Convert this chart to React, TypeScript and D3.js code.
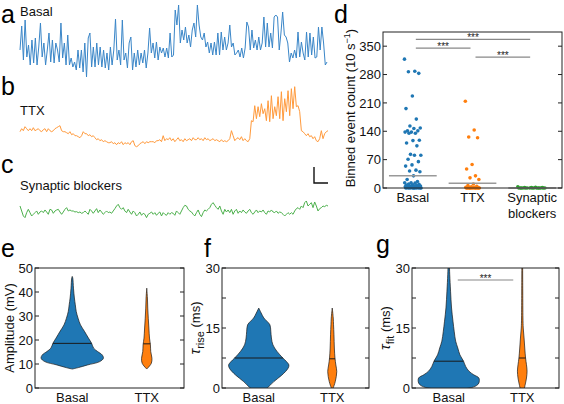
import React, { useEffect, useRef } from 'react';
import * as d3 from 'd3';

const FONT = '"Liberation Sans", Arial, Helvetica, sans-serif';

// ---- traces (a, b, c) ----
const basalTrace = [
  30,54,20,60,23,35,15,40,17,42,15,33,57,23,37,15,30,47,18,40,17,37,30,18,57,22,37,15,45,15,22,13,18,10,30,12,30,8,37,3,
  42,47,13,33,13,37,15,33,13,30,12,27,10,33,15,30,61,20,30,15,60,20,27,12,37,43,10,27,13,30,15,27,17,30,12,27,52,27,37,22,
  38,20,33,27,32,23,32,22,47,23,25,
  70,55,75,37,50,40,53,37,45,33,50,57,43,75,55,43,40,47,33,38,27,37,25,38,25,47,25,48,30,43,30,37,55,33,37,25,27,30,23,32,
  22,32,58,53,30,50,32,40,30,43,30,37,63,33,57,33,47,32,63,65,63,30,47,68,45,43,37,18,27,22,30,22,48,23,38,27,20,48,23,47,
  25,43,22,23,53,30,53,37,15,18
];
const ttxTrace = [
  17,20,18,22,20,18,20,18,21,18,19,20,18,17,19,20,17,20,18,17,18,20,21,22,23,18,17,17,16,15,17,14,15,13,13,12,11,13,17,15,
  15,13,14,12,13,11,9,10,8,9,7,8,7,6,6,7,5,6,4,6,5,7,4,6,5,6,4,7,8,3,2,3,5,6,7,5,7,6,7,7,7,6,8,8,9,7,13,8,10,9,11,8,10,7,
  9,11,8,9,7,10,8,9,10,8,11,9,9,11,9,10,8,11,9,10,8,9,10,8,9,8,7,9,7,8,7,8,10,18,13,8,10,11,9,12,8,10,8,7,10,
  28,27,43,30,42,32,45,35,40,28,48,27,53,30,42,33,52,30,57,28,50,37,58,33,60,40,62,42,43,37,
  18,17,15,13,15,12,13,10,12,8,7,10,18,10,15,17,18
];
const synTrace = [
  40,25,10,5,20,30,20,10,15,20,25,15,22,25,20,28,22,15,30,28,18,25,28,30,22,15,22,30,35,25,28,25,25,22,23,20,22,18,20,25,
  20,15,30,25,18,25,32,20,28,22,15,20,25,20,22,18,25,32,40,45,35,30,35,25,20,30,22,15,25,20,10,15,22,12,18,15,5,15,18,22,
  15,20,12,18,22,10,20,15,12,20,15,20,18,12,25,20,15,25,35,42,40,30,25,22,15,10,20,28,15,8,20,28,25,30,35,45,50,42,35,30,
  40,25,15,30,22,28,20,30,15,25,30,18,25,20,28,22,18,25,30,20,15,22,28,20,25,22,28,20,15,25,22,28,22,20,25,18,22,20,15,10,
  15,20,15,20,15,25,32,35,30,40,35,50,55,40,45,50,35,52,40,25,32,35,40,38,42,40
];
const traceNames = ['Basal', 'TTX', 'Synaptic blockers'];

// ---- panel d ----
const dCategories = ['Basal', 'TTX', 'Synaptic blockers'];
const basalCounts = [318,288,287,283,227,196,170,153,148,147,141,141,138,138,135,135,118,117,111,104,83,81,81,71,65,57,54,44,42,40,
  30,21,16,13,13,12,10,9,8,7,6,5,5,4,4,3,3,3,2,2,2,1,1,1,1,0,0,0,0,0,0,0,0,0,0];
const ttxCounts = [214,143,126,124,58,47,30,25,21,10,6,4,3,2,2,1,1,1,0,0,0,0,0,0,0,0,0,0,0,0];
const synCounts = [3,2,1,1,1,0,0,0,0,0,0,0,0,0,0,0,0,0,0,0];
const dMedians = [30, 12, 0];
const dTicks = [0, 70, 140, 210, 280, 350];
const dSig = [
  { from: 1, to: 3, value: 367 },
  { from: 1, to: 2, value: 345 },
  { from: 2, to: 3, value: 323 },
];

// ---- violins (e, f, g): [value, relative density] ----
const vCategories = ['Basal', 'TTX'];
const ampBasal = [[7.9,0],[8.5,0.2],[9.6,0.5],[11.0,0.9],[12.4,1.02],[13.8,0.98],[15.2,0.83],[16.6,0.7],[18.7,0.63],[20.8,0.53],
  [23.6,0.4],[26.3,0.27],[29.1,0.19],[31.9,0.13],[34.7,0.1],[37.5,0.07],[41.6,0.04],[45.8,0.017],[46.5,0]];
const ampTTX = [[7.9,0],[8.3,0.03],[10.3,0.15],[12.4,0.17],[15.2,0.13],[18,0.12],[20.8,0.09],[25,0.07],[29.1,0.05],[33.3,0.033],
  [37.5,0.022],[41.6,0]];
const ampMedians = [18.6, 18.4];
const ampTicks = [0, 10, 20, 30, 40, 50];

const riseBasal = [[-1.2,0],[0,0.28],[1.6,0.5],[3.25,0.77],[4.9,0.97],[5.75,1.0],[6.6,0.92],[7.5,0.8],[9.2,0.6],[10.8,0.47],
  [12.5,0.42],[14.2,0.4],[15.8,0.37],[16.7,0.27],[17.5,0.17],[18.75,0.08],[20,0]];
const riseTTX = [[-0.5,0],[0,0.03],[1.6,0.1],[4.1,0.15],[5.75,0.12],[7.5,0.09],[10,0.07],[13.3,0.057],[15.8,0.043],[17.5,0.033],[20,0]];
const riseMedians = [7.5, 7.3];

const fitBasal = [[-0.4,0],[0,0.7],[0.6,0.92],[1.25,1.0],[2.5,1.0],[3.3,0.83],[4.2,0.67],[5.4,0.56],[6.7,0.49],[8.3,0.37],[10,0.3],
  [11.7,0.23],[14.2,0.18],[16.7,0.14],[20,0.093],[24.2,0.06],[28.3,0.033],[30,0.025],[32,0.02]];
const fitTTX = [[-0.4,0],[0,0.07],[0.6,0.09],[2.5,0.14],[4.2,0.16],[5.8,0.14],[7.5,0.11],[10,0.083],[12.5,0.06],[15,0.033],
  [17.5,0.023],[24,0.017],[30,0.013],[32,0.013]];
const fitMedians = [6.7, 7.5];
const tauTicks = [0, 7.5, 15, 22.5, 30];
const tauLabels = [0, 15, 30];
const fitSig = [{ from: 1, to: 2, value: 27 }];

const BLUE = '#1f77b4';
const ORANGE = '#ff7f0e';
const GREEN = '#2ca02c';
const AXIS = '#222';

type Sel = d3.Selection<any, unknown, null, undefined>;

function drawTrace(g: Sel, data: number[], color: string, x0: number, x1: number, dom: [number, number], rng: [number, number]) {
  const x = d3.scaleLinear().domain([0, data.length - 1]).range([x0, x1]);
  const y = d3.scaleLinear().domain(dom).range(rng);
  const line = d3.line<number>().x((_, i) => x(i)).y((d) => y(d));
  g.append('path').attr('d', line(data)).attr('fill', 'none').attr('stroke', color).attr('stroke-width', 1)
    .attr('stroke-linejoin', 'round');
}

function yTicks(g: Sel, y: d3.ScaleLinear<number, number>, left: number, right: number, ticks: number[], labels: number[]) {
  ticks.forEach((t) => {
    g.append('line').attr('x1', left).attr('x2', left + 4).attr('y1', y(t)).attr('y2', y(t)).attr('stroke', AXIS).attr('stroke-width', 1);
    g.append('line').attr('x1', right).attr('x2', right - 4).attr('y1', y(t)).attr('y2', y(t)).attr('stroke', AXIS).attr('stroke-width', 1);
  });
  labels.forEach((t) => {
    g.append('text').attr('x', left - 2).attr('y', y(t)).attr('dy', '0.36em').attr('text-anchor', 'end')
      .attr('font-size', 13).attr('font-family', FONT).attr('fill', '#111').text(String(t));
  });
}

function sigBar(g: Sel, x1: number, x2: number, yv: number) {
  g.append('line').attr('x1', x1).attr('x2', x2).attr('y1', yv).attr('y2', yv).attr('stroke', '#888').attr('stroke-width', 1.2);
  g.append('text').attr('x', (x1 + x2) / 2).attr('y', yv + 2).attr('text-anchor', 'middle').attr('font-size', 10)
    .attr('font-family', FONT).attr('fill', '#222').text('***');
}

function violinPanel(svg: Sel, opts: {
  id: string; left: number; right: number; top: number; bottom: number; yMax: number;
  ticks: number[]; labels: number[]; data: number[][][]; medians: number[];
  sig?: { from: number; to: number; value: number }[];
}) {
  const { left, right, top, bottom } = opts;
  const x = d3.scaleLinear().domain([0.5, 2.5]).range([left, right]);
  const y = d3.scaleLinear().domain([0, opts.yMax]).range([bottom, top]);
  const unit = x(1) - x(0);
  const g = svg.append('g');
  g.append('clipPath').attr('id', opts.id).append('rect').attr('x', left).attr('y', top).attr('width', right - left).attr('height', bottom - top);
  const cg = g.append('g').attr('clip-path', `url(#${opts.id})`);
  const colors = [BLUE, ORANGE];
  opts.data.forEach((ds, k) => {
    const cx = x(k + 1);
    const area = d3.area<number[]>()
      .y((d) => y(d[0]))
      .x0((d) => cx - d[1] * 0.41 * unit)
      .x1((d) => cx + d[1] * 0.41 * unit)
      .curve(d3.curveCatmullRom);
    cg.append('path').attr('d', area(ds)).attr('fill', colors[k]).attr('stroke', '#1a1a1a').attr('stroke-width', 0.7);
    const m = opts.medians[k];
    let w = 0;
    for (let i = 0; i < ds.length - 1; i++) {
      if (ds[i][0] <= m && ds[i + 1][0] >= m) {
        const f = (m - ds[i][0]) / (ds[i + 1][0] - ds[i][0]);
        w = ds[i][1] + f * (ds[i + 1][1] - ds[i][1]);
      }
    }
    cg.append('line').attr('x1', cx - w * 0.41 * unit).attr('x2', cx + w * 0.41 * unit).attr('y1', y(m)).attr('y2', y(m))
      .attr('stroke', '#1a1a1a').attr('stroke-width', 1);
  });
  g.append('rect').attr('x', left).attr('y', top).attr('width', right - left).attr('height', bottom - top)
    .attr('fill', 'none').attr('stroke', AXIS).attr('stroke-width', 1);
  yTicks(g, y, left, right, opts.ticks, opts.labels);
  vCategories.forEach((c, k) => {
    g.append('text').attr('x', x(k + 1)).attr('y', 402).attr('text-anchor', 'middle').attr('font-size', 13)
      .attr('font-family', FONT).attr('fill', '#111').text(c);
  });
  (opts.sig || []).forEach((s) => sigBar(g, x(s.from) + 9, x(s.to) - 9, y(s.value)));
  return g;
}

function draw(svg: Sel) {
  svg.append('rect').attr('width', 564).attr('height', 404).attr('fill', '#fff');

  // panel labels
  const pl: [string, number, number][] = [['a', 1, 23], ['b', 1, 95], ['c', 1, 173], ['d', 334, 23], ['e', 1, 257], ['f', 204, 257], ['g', 376, 253]];
  pl.forEach(([t, x, y]) => {
    svg.append('text').attr('x', x).attr('y', y).attr('font-size', 25).attr('font-family', FONT).attr('fill', '#000').text(t);
  });

  // traces
  const tg = svg.append('g');
  drawTrace(tg, basalTrace, '#3a86c8', 20, 327, [0, 80], [80, 0]);
  drawTrace(tg, ttxTrace, '#ff9a3c', 20, 328, [0, 80], [148.7, 68.7]);
  drawTrace(tg, synTrace, '#4cb04c', 20, 328, [0, 70], [219.3, 196]);
  const namePos: [number, number][] = [[20, 16], [20, 115], [20, 190]];
  traceNames.forEach((n, i) => {
    tg.append('text').attr('x', namePos[i][0]).attr('y', namePos[i][1]).attr('font-size', 13).attr('font-family', FONT)
      .attr('fill', '#111').text(n);
  });
  // scale bar
  tg.append('path').attr('d', 'M314,167 L314,183 L328,183').attr('fill', 'none').attr('stroke', '#111').attr('stroke-width', 1.4);

  // panel d
  const dg = svg.append('g');
  const L = 383, R = 562, T = 32, B = 188;
  const x = d3.scaleLinear().domain([0.5, 3.5]).range([L, R]);
  const y = d3.scaleLinear().domain([0, 385]).range([B, T]);
  const sets = [basalCounts, ttxCounts, synCounts];
  const cols = [BLUE, ORANGE, GREEN];
  const jw = [0.14, 0.12, 0.24];
  sets.forEach((s, k) => {
    s.forEach((v, i) => {
      const off = (((i * 0.6180339) % 1) - 0.5) * 2 * jw[k];
      dg.append('circle').attr('cx', x(k + 1 + off)).attr('cy', y(v)).attr('r', 1.8).attr('fill', cols[k]);
    });
  });
  dMedians.forEach((m, k) => {
    dg.append('line').attr('x1', x(k + 1 - 0.4)).attr('x2', x(k + 1 + 0.4)).attr('y1', y(m)).attr('y2', y(m))
      .attr('stroke', '#999').attr('stroke-width', 1.5);
  });
  dg.append('rect').attr('x', L).attr('y', T).attr('width', R - L).attr('height', B - T).attr('fill', 'none')
    .attr('stroke', AXIS).attr('stroke-width', 1);
  yTicks(dg, y, L, R, dTicks, dTicks);
  dSig.forEach((s) => sigBar(dg, x(s.from) + 3, x(s.to) - 2, y(s.value)));
  dCategories.forEach((c, k) => {
    const words = c === 'Synaptic blockers' ? ['Synaptic', 'blockers'] : [c];
    words.forEach((w, j) => {
      dg.append('text').attr('x', x(k + 1)).attr('y', 202 + j * 16).attr('text-anchor', 'middle').attr('font-size', 13)
        .attr('font-family', FONT).attr('fill', '#111').text(w);
    });
  });
  const dl = dg.append('text').attr('transform', 'translate(355,108) rotate(-90)').attr('text-anchor', 'middle')
    .attr('font-size', 13).attr('font-family', FONT).attr('fill', '#111');
  dl.append('tspan').text('Binned event count (10 s');
  dl.append('tspan').attr('dy', -5).attr('font-size', 9).text('−1');
  dl.append('tspan').attr('dy', 5).text(')');

  // panel e
  const eg = violinPanel(svg, { id: 'clipE', left: 35, right: 184, top: 268, bottom: 388, yMax: 50, ticks: ampTicks, labels: ampTicks,
    data: [ampBasal, ampTTX], medians: ampMedians });
  eg.append('text').attr('transform', 'translate(14,328) rotate(-90)').attr('text-anchor', 'middle').attr('font-size', 13)
    .attr('font-family', FONT).attr('fill', '#111').text('Amplitude (mV)');

  // panel f
  const fg = violinPanel(svg, { id: 'clipF', left: 222, right: 369, top: 268, bottom: 388, yMax: 30, ticks: tauTicks, labels: tauLabels,
    data: [riseBasal, riseTTX], medians: riseMedians });
  const fl = fg.append('text').attr('transform', 'translate(200,328) rotate(-90)').attr('text-anchor', 'middle').attr('font-size', 13)
    .attr('font-family', FONT).attr('fill', '#111');
  fl.append('tspan').attr('font-style', 'italic').attr('font-size', 15).text('τ');
  fl.append('tspan').attr('dy', 4).attr('font-size', 11).text('rise');
  fl.append('tspan').attr('dy', -4).text(' (ms)');

  // panel g
  const gg = violinPanel(svg, { id: 'clipG', left: 412, right: 559, top: 268, bottom: 388, yMax: 30, ticks: tauTicks, labels: tauLabels,
    data: [fitBasal, fitTTX], medians: fitMedians, sig: fitSig });
  const gl = gg.append('text').attr('transform', 'translate(390,328) rotate(-90)').attr('text-anchor', 'middle').attr('font-size', 13)
    .attr('font-family', FONT).attr('fill', '#111');
  gl.append('tspan').attr('font-style', 'italic').attr('font-size', 15).text('τ');
  gl.append('tspan').attr('dy', 4).attr('font-size', 11).text('fit');
  gl.append('tspan').attr('dy', -4).text(' (ms)');
}

export default function App() {
  const ref = useRef<SVGSVGElement>(null);
  useEffect(() => {
    const svg = d3.select(ref.current);
    svg.selectAll('*').remove();
    draw(svg as any);
  }, []);
  return (
    <div style={{ position: 'absolute', left: 0, top: 0 }}>
      <svg ref={ref} width={564} height={404} style={{ display: 'block' }} />
    </div>
  );
}
